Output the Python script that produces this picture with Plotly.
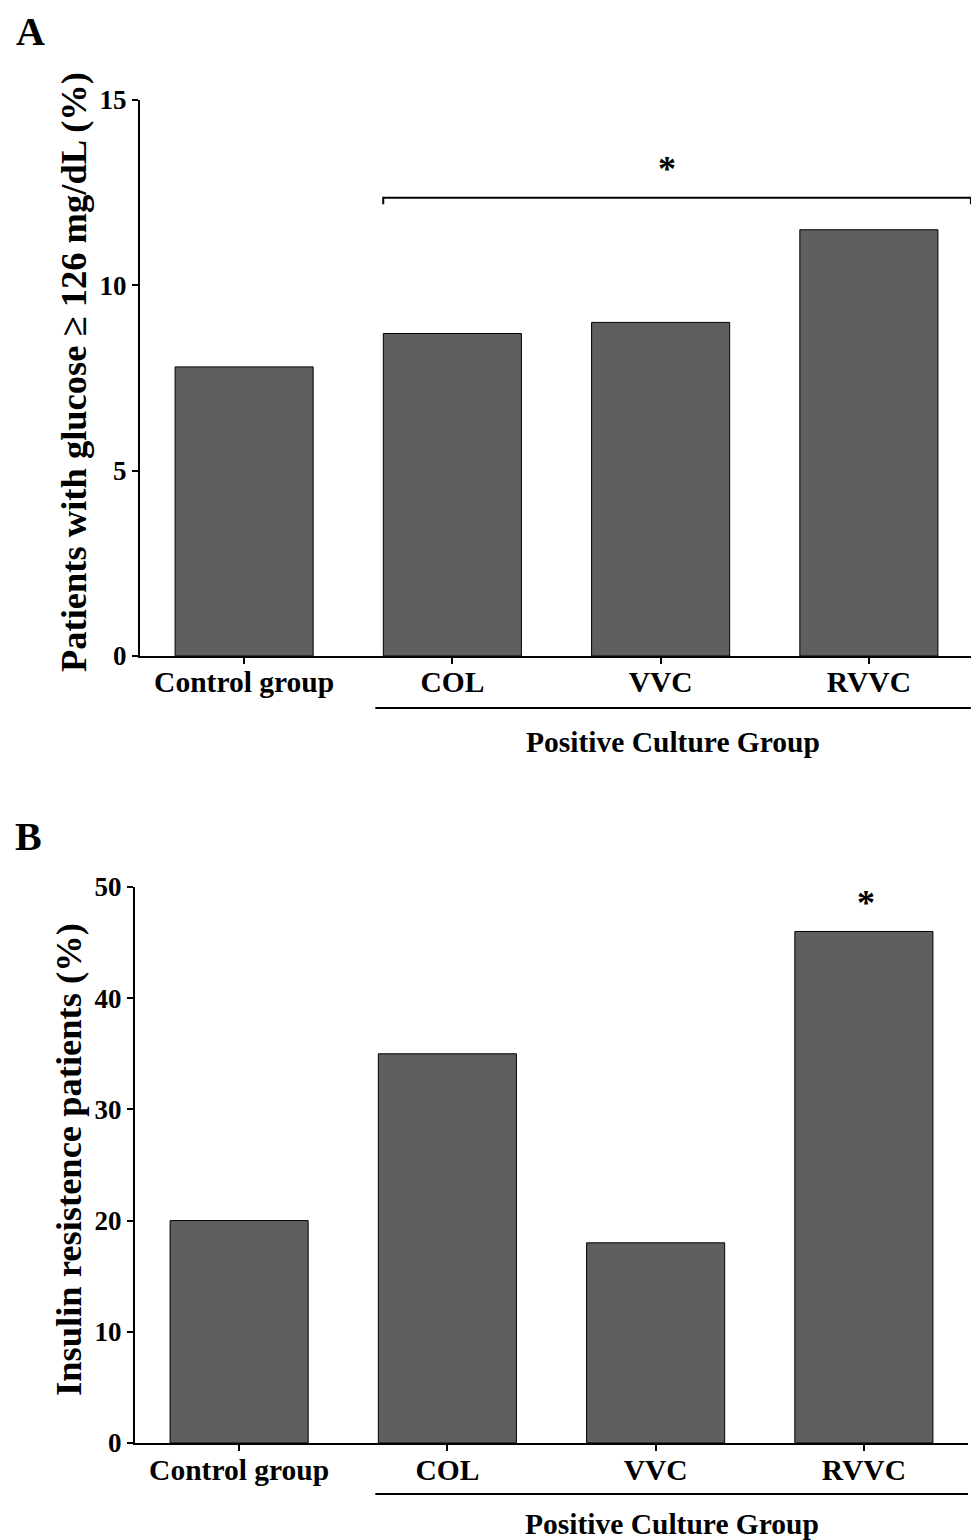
import plotly.graph_objects as go

categories = ["Control group", "COL", "VVC", "RVVC"]
glucose_pct = [7.8, 8.7, 9.0, 11.5]
insulin_pct = [20, 35, 18, 46]
y_ticks_a = [0, 5, 10, 15]
y_ticks_b = [0, 10, 20, 30, 40, 50]

# page has an 8px body margin; figure sized to fit the 979x1540 viewport
OFF = 8
W, H = 979 - OFF, 1540 - OFF
FONT = "Liberation Serif"
BAR_COLOR = "#5f5f5f"


def px(x):
    return (x - OFF) / W


def py(y):
    return 1 - (y - OFF) / H


fig = go.Figure()
fig.add_trace(go.Bar(x=categories, y=glucose_pct, xaxis="x", yaxis="y",
                     marker=dict(color=BAR_COLOR, line=dict(color="black", width=1)),
                     width=0.663, showlegend=False))
fig.add_trace(go.Bar(x=categories, y=insulin_pct, xaxis="x2", yaxis="y2",
                     marker=dict(color=BAR_COLOR, line=dict(color="black", width=1)),
                     width=0.663, showlegend=False))

axis_common = dict(showline=True, linecolor="black", linewidth=2, ticks="outside",
                   ticklen=6, tickwidth=2, tickcolor="black", showgrid=False, zeroline=False,
                   automargin=False)
xfont = dict(family=FONT, size=29.5, color="black", weight="bold")
yfont = dict(family=FONT, size=27, color="black", weight="bold")

fig.update_layout(
    template="none",
    width=W, height=H, margin=dict(l=0, r=0, t=0, b=0, pad=0, autoexpand=False),
    paper_bgcolor="white", plot_bgcolor="white",
    font=dict(family=FONT, color="black"),
    xaxis=dict(domain=[px(140), px(973)], anchor="y", range=[-0.5, 3.5],
               tickfont=xfont, ticklabelstandoff=-7, **axis_common),
    yaxis=dict(domain=[py(656), py(100)], anchor="x", range=[0, 15],
               tickvals=y_ticks_a, tickfont=yfont, **axis_common),
    xaxis2=dict(domain=[px(135), px(968)], anchor="y2", range=[-0.5, 3.5],
                tickfont=xfont, ticklabelstandoff=-6, **axis_common),
    yaxis2=dict(domain=[py(1443), py(887)], anchor="x2", range=[0, 50],
                tickvals=y_ticks_b, tickfont=yfont, **axis_common),
)

title_font = dict(family=FONT, size=36.5, color="black")
fig.add_annotation(text="<b>Patients with glucose ≥ 126 mg/dL (%)</b>", textangle=-90,
                   xref="paper", yref="paper", x=px(74), y=py(372), xanchor="center",
                   yanchor="middle", showarrow=False, font=title_font)
fig.add_annotation(text="<b>Insulin resistence patients (%)</b>", textangle=-90,
                   xref="paper", yref="paper", x=px(68), y=py(1160), xanchor="center",
                   yanchor="middle", showarrow=False, font=title_font)

label_font = dict(family=FONT, size=40, color="black")
fig.add_annotation(text="<b>A</b>", xref="paper", yref="paper", x=px(30), y=1,
                   xanchor="center", yanchor="top", showarrow=False, font=label_font,
                   borderpad=0)
fig.add_annotation(text="<b>B</b>", xref="paper", yref="paper", x=px(28), y=py(837),
                   xanchor="center", yanchor="middle", showarrow=False, font=label_font)

group_font = dict(family=FONT, size=29.5, color="black")
fig.add_shape(type="line", xref="x", yref="paper", x0=0.63, x1=3.49,
              y0=py(708), y1=py(708), line=dict(color="black", width=2))
fig.add_annotation(text="<b>Positive Culture Group</b>", xref="x", yref="paper",
                   x=2.06, y=py(742), showarrow=False, font=group_font, yanchor="middle")
fig.add_shape(type="line", xref="x2", yref="paper", x0=0.654, x1=3.505,
              y0=py(1494), y1=py(1494), line=dict(color="black", width=2))
fig.add_annotation(text="<b>Positive Culture Group</b>", xref="x2", yref="paper",
                   x=2.08, y=py(1524), showarrow=False, font=group_font, yanchor="middle")

bx0, bx1, by, bdrop = 0.668, 3.49, 12.36, 0.17
fig.add_shape(type="path", xref="x", yref="y",
              path=f"M {bx0} {by - bdrop} L {bx0} {by} L {bx1} {by} L {bx1} {by - bdrop}",
              line=dict(color="black", width=2))
star_font = dict(family=FONT, size=36, color="black")
fig.add_annotation(text="<b>*</b>", xref="x", yref="y", x=2.03, y=13.15, showarrow=False,
                   font=star_font, yanchor="middle")
fig.add_annotation(text="<b>*</b>", xref="x2", yref="y2", x=3.01, y=48.6, showarrow=False,
                   font=star_font, yanchor="middle")

fig.write_html("out.html")
